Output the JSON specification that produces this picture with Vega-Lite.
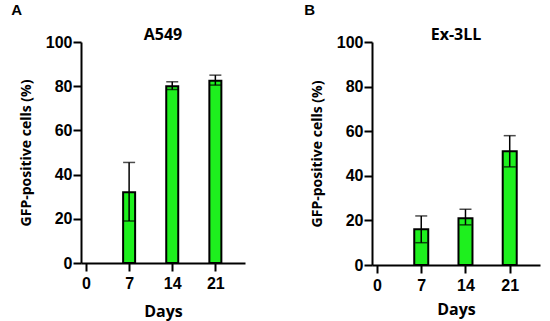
{
  "$schema": "https://vega.github.io/schema/vega-lite/v6.json",
  "background": "white",
  "padding": {"left": 11, "top": 3, "right": 5, "bottom": 2},
  "datasets": {
    "a549": [
      {"day": 7, "value": 32, "lo": 19, "hi": 45.5},
      {"day": 14, "value": 80, "lo": 78.5, "hi": 82},
      {"day": 21, "value": 82.5, "lo": 80.5, "hi": 85}
    ],
    "ex3ll": [
      {"day": 7, "value": 16, "lo": 10, "hi": 22},
      {"day": 14, "value": 21, "lo": 18, "hi": 25},
      {"day": 21, "value": 51, "lo": 44, "hi": 58}
    ]
  },
  "config": {
    "view": {"stroke": null},
    "axis": {
      "grid": false,
      "domain": true,
      "ticks": true,
      "domainColor": "black",
      "domainWidth": 2,
      "tickColor": "black",
      "tickWidth": 2,
      "tickSize": 8,
      "labelFont": "Liberation Sans",
      "labelFontWeight": "bold",
      "labelFontSize": 16,
      "labelColor": "black",
      "titleFont": "Open Sans",
      "titleFontWeight": "bold",
      "titleFontSize": 14,
      "titleColor": "black"
    },
    "title": {"font": "Open Sans", "fontWeight": "bold", "color": "black"},
    "concat": {"spacing": 59}
  },
  "hconcat": [
    {
      "title": {"text": "A", "anchor": "start", "frame": "bounds", "font": "Liberation Sans", "fontSize": 15, "offset": 9, "dx": -8},
      "vconcat": [
        {
          "title": {"text": "A549", "fontSize": 16, "offset": -9},
          "data": {"name": "a549"},
          "width": 164,
          "height": 221,
          "encoding": {
            "x": {"field": "day", "type": "quantitative", "title": "Days", "scale": {"domain": [0, 25], "nice": false},
                  "axis": {"values": [0, 7, 14, 21], "titleFontSize": 16, "titlePadding": 12, "labelPadding": 4}}
          },
          "layer": [
            {
              "mark": {"type": "bar", "size": 12, "fill": "#1ef01e", "stroke": "black", "strokeWidth": 2},
              "encoding": {
                "y": {"field": "value", "type": "quantitative", "title": "GFP-positive cells (%)", "scale": {"domain": [0, 100], "nice": false},
                      "axis": {"values": [0, 20, 40, 60, 80, 100], "titlePadding": 12, "labelPadding": 1}}
              }
            },
            {
              "mark": {"type": "rule", "color": "black", "strokeWidth": 1.5},
              "encoding": {
                "y": {"field": "lo", "type": "quantitative", "title": "GFP-positive cells (%)"},
                "y2": {"field": "hi"}
              }
            },
            {
              "mark": {"type": "tick", "orient": "horizontal", "color": "black", "size": 12, "thickness": 1.5},
              "encoding": {
                "y": {"field": "lo", "type": "quantitative", "title": "GFP-positive cells (%)"}
              }
            },
            {
              "mark": {"type": "tick", "orient": "horizontal", "color": "black", "size": 12, "thickness": 1.5},
              "encoding": {
                "y": {"field": "hi", "type": "quantitative", "title": "GFP-positive cells (%)"}
              }
            }
          ]
        }
      ]
    },
    {
      "title": {"text": "B", "anchor": "start", "frame": "bounds", "font": "Liberation Sans", "fontSize": 15, "offset": 9, "dx": -6},
      "vconcat": [
        {
          "title": {"text": "Ex-3LL", "fontSize": 16, "offset": -9},
          "data": {"name": "ex3ll"},
          "width": 168,
          "height": 223,
          "encoding": {
            "x": {"field": "day", "type": "quantitative", "title": "Days", "scale": {"domain": [0, 25], "nice": false},
                  "axis": {"values": [0, 7, 14, 21], "titleFontSize": 16, "titlePadding": 8, "labelPadding": 4}}
          },
          "layer": [
            {
              "mark": {"type": "bar", "size": 14, "fill": "#1ef01e", "stroke": "black", "strokeWidth": 2},
              "encoding": {
                "y": {"field": "value", "type": "quantitative", "title": "GFP-positive cells (%)", "scale": {"domain": [0, 100], "nice": false},
                      "axis": {"values": [0, 20, 40, 60, 80, 100], "titlePadding": 12, "labelPadding": 1}}
              }
            },
            {
              "mark": {"type": "rule", "color": "black", "strokeWidth": 1.5},
              "encoding": {
                "y": {"field": "lo", "type": "quantitative", "title": "GFP-positive cells (%)"},
                "y2": {"field": "hi"}
              }
            },
            {
              "mark": {"type": "tick", "orient": "horizontal", "color": "black", "size": 12, "thickness": 1.5},
              "encoding": {
                "y": {"field": "lo", "type": "quantitative", "title": "GFP-positive cells (%)"}
              }
            },
            {
              "mark": {"type": "tick", "orient": "horizontal", "color": "black", "size": 12, "thickness": 1.5},
              "encoding": {
                "y": {"field": "hi", "type": "quantitative", "title": "GFP-positive cells (%)"}
              }
            }
          ]
        }
      ]
    }
  ]
}
